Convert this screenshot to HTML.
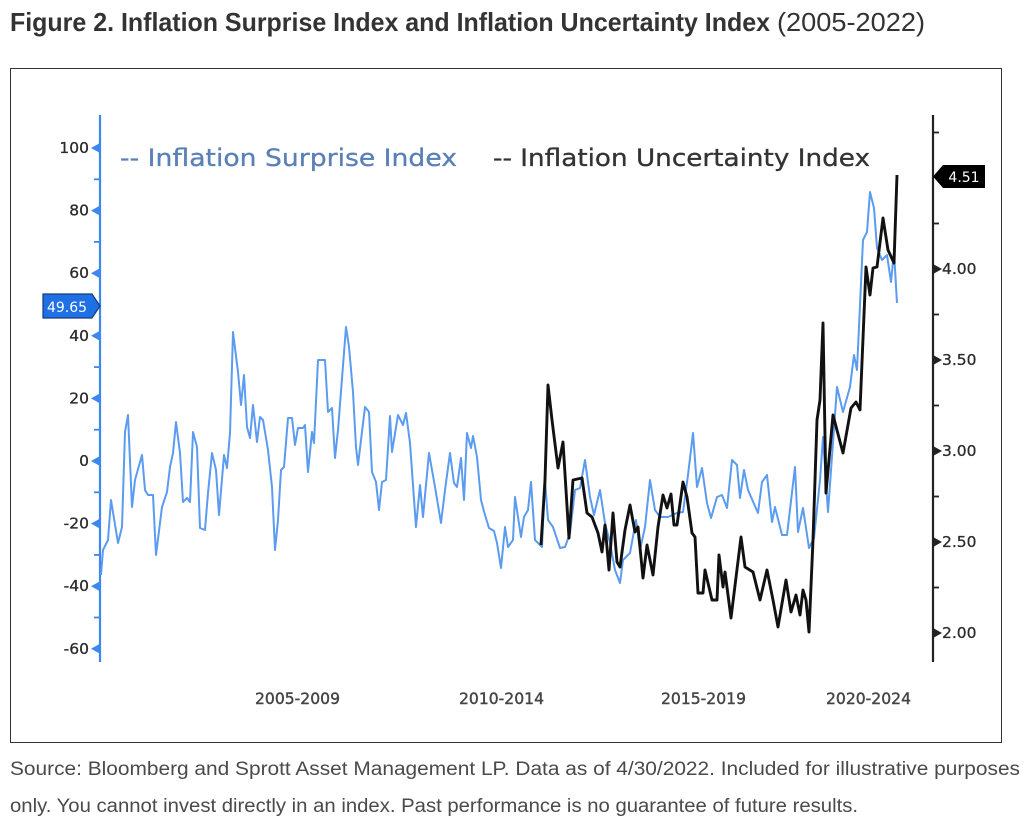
<!DOCTYPE html>
<html><head><meta charset="utf-8"><style>
html,body{margin:0;padding:0;background:#fff;}
svg{display:block;}
</style></head><body>
<svg width="1024" height="826" viewBox="0 0 1024 826" xmlns="http://www.w3.org/2000/svg">
<rect x="0" y="0" width="1024" height="826" fill="#fff"/>
<!-- Title -->
<text x="10" y="31" font-family="Liberation Sans, sans-serif" font-size="26" font-weight="bold" fill="#333" textLength="760" lengthAdjust="spacingAndGlyphs">Figure 2. Inflation Surprise Index and Inflation Uncertainty Index</text>
<text x="777" y="31" font-family="Liberation Sans, sans-serif" font-size="26" fill="#333" textLength="148" lengthAdjust="spacingAndGlyphs">(2005-2022)</text>
<!-- Box -->
<rect x="10.5" y="68.5" width="991" height="674" fill="none" stroke="#333" stroke-width="1"/>

<!-- Left axis -->
<line x1="100" y1="115" x2="100" y2="662" stroke="#3d87f0" stroke-width="2.2"/>
<g fill="#3d87f0">
<polygon points="100,143 91,148 100,153"/>
<polygon points="100,205.6 91,210.6 100,215.6"/>
<polygon points="100,268.2 91,273.2 100,278.2"/>
<polygon points="100,330.8 91,335.8 100,340.8"/>
<polygon points="100,393.4 91,398.4 100,403.4"/>
<polygon points="100,456 91,461 100,466"/>
<polygon points="100,518.6 91,523.6 100,528.6"/>
<polygon points="100,581.2 91,586.2 100,591.2"/>
<polygon points="100,643.8 91,648.8 100,653.8"/>
</g>
<g stroke="#3d87f0" stroke-width="1.8">
<line x1="94" y1="179.3" x2="100" y2="179.3"/>
<line x1="94" y1="241.9" x2="100" y2="241.9"/>
<line x1="94" y1="304.5" x2="100" y2="304.5"/>
<line x1="94" y1="367.1" x2="100" y2="367.1"/>
<line x1="94" y1="429.7" x2="100" y2="429.7"/>
<line x1="94" y1="492.3" x2="100" y2="492.3"/>
<line x1="94" y1="554.9" x2="100" y2="554.9"/>
<line x1="94" y1="617.5" x2="100" y2="617.5"/>
</g>
<g font-family="DejaVu Sans, sans-serif" font-size="15.5" fill="#2a2a2a" text-anchor="end" stroke="#2a2a2a" stroke-width="0.3">
<text x="89" y="153">100</text>
<text x="89" y="215.6">80</text>
<text x="89" y="278.2">60</text>
<text x="89" y="340.8">40</text>
<text x="89" y="403.4">20</text>
<text x="89" y="466">0</text>
<text x="89" y="528.6">-20</text>
<text x="89" y="591.2">-40</text>
<text x="89" y="653.8">-60</text>
</g>

<!-- Right axis -->
<line x1="933" y1="115" x2="933" y2="662" stroke="#222" stroke-width="2.2"/>
<g fill="#222">
<polygon points="933,264 942,269 933,274"/>
<polygon points="933,355 942,360 933,365"/>
<polygon points="933,446 942,451 933,456"/>
<polygon points="933,537 942,542 933,547"/>
<polygon points="933,628 942,633 933,638"/>
</g>
<g stroke="#222" stroke-width="1.8">
<line x1="933" y1="132.5" x2="939" y2="132.5"/>
<line x1="933" y1="223.5" x2="939" y2="223.5"/>
<line x1="933" y1="314.5" x2="939" y2="314.5"/>
<line x1="933" y1="405.5" x2="939" y2="405.5"/>
<line x1="933" y1="496.5" x2="939" y2="496.5"/>
<line x1="933" y1="587.5" x2="939" y2="587.5"/>
</g>
<g font-family="DejaVu Sans, sans-serif" font-size="15.5" fill="#2a2a2a" stroke="#2a2a2a" stroke-width="0.3">
<text x="942" y="274">4.00</text>
<text x="942" y="365">3.50</text>
<text x="942" y="456">3.00</text>
<text x="942" y="547">2.50</text>
<text x="942" y="638">2.00</text>
</g>

<!-- Legend -->
<text x="120" y="166" font-family="DejaVu Sans, sans-serif" font-size="24" fill="#5a80b8" stroke="#5a80b8" stroke-width="0.3" textLength="337" lengthAdjust="spacingAndGlyphs">-- Inflation Surprise Index</text>
<text x="493" y="166" font-family="DejaVu Sans, sans-serif" font-size="24" fill="#333" stroke="#333" stroke-width="0.3" textLength="377" lengthAdjust="spacingAndGlyphs">-- Inflation Uncertainty Index</text>

<!-- X labels -->
<g font-family="DejaVu Sans, sans-serif" font-size="16" fill="#444" stroke="#444" stroke-width="0.4">
<text x="255" y="704" textLength="85" lengthAdjust="spacingAndGlyphs">2005-2009</text>
<text x="459" y="704" textLength="85" lengthAdjust="spacingAndGlyphs">2010-2014</text>
<text x="661" y="704" textLength="85" lengthAdjust="spacingAndGlyphs">2015-2019</text>
<text x="826" y="704" textLength="85" lengthAdjust="spacingAndGlyphs">2020-2024</text>
</g>

<!-- Blue series -->
<polyline fill="none" stroke="#5b9bf0" stroke-width="2" stroke-linejoin="round" points="101,575 103,550 108,540 111,500 118,543 122,527 125,432 128,415 132,507 135,480 142,455 145,490 148,495 153,495 156,555 162,507 167,492 170,467 173,453 176,422 180,453 183,502 187,498 190,502 193,432 197,447 200,528 205,530 208,493 212,453 216,470 219,515 224,455 227,468 230,433 233,332 238,372 241,405 244,375 247,427 250,438 253,405 257,442 260,417 263,420 268,450 272,487 275,550 278,520 281,470 284,467 288,418 292,418 295,445 298,428 303,428 305,425 308,472 312,432 314,443 318,360 325,360 328,412 332,408 335,458 338,430 346,327 349,347 353,392 356,447 358,465 365,407 369,412 372,472 376,482 379,510 382,482 386,480 390,416 392,452 398,415 403,425 406,413 410,443 416,527 420,485 423,517 429,453 435,487 441,523 445,490 450,453 454,483 457,487 461,458 464,500 467,433 471,448 473,436 477,457 481,500 485,515 489,528 494,531 497,543 501,568 505,527 508,547 513,540 515,497 521,537 524,517 528,510 531,482 535,540 542,547 545,480 548,520 553,527 560,548 565,547 570,533 575,490 580,488 585,460 590,497 594,515 600,490 605,523 610,543 615,570 620,583 623,560 630,553 636,520 640,550 645,527 650,480 655,510 660,517 668,517 677,513 683,512 688,475 693,433 697,487 702,468 707,503 711,518 717,497 722,495 727,508 732,460 737,465 740,498 744,470 748,490 758,513 762,482 767,475 772,522 775,507 782,535 787,535 795,467 798,532 803,508 809,548 814,538 820,480 823,437 828,512 837,387 843,412 850,387 854,355 857,370 863,240 867,232 870,192 874,208 877,248 882,260 887,255 891,282 894,252 897,303"/>

<!-- Black series -->
<polyline fill="none" stroke="#111" stroke-width="2.9" stroke-linejoin="round" points="541,545 545,480 548,385 552,420 558,468 563,442 569,538 573,480 582,478 587,513 592,517 598,533 602,552 605,525 609,570 613,513 617,562 620,567 625,530 630,505 635,532 638,527 643,578 647,545 653,575 658,527 663,495 667,508 671,494 674,525 677,525 683,482 687,497 692,533 695,537 698,593 703,593 705,570 712,600 717,600 719,555 723,587 725,572 731,618 741,537 745,567 753,572 760,600 767,570 773,600 778,627 786,580 791,612 796,595 800,615 803,590 806,600 809,632 813,540 817,420 820,400 823,323 826,493 833,415 843,453 851,408 856,402 860,410 866,267 870,295 873,268 877,267 883,218 888,250 894,263 897,175"/>

<!-- Value tags -->
<polygon points="43,294 92,294 100,306 92,318 43,318" fill="#1f6fe5" stroke="#163c78" stroke-width="1.2"/>
<text x="67" y="312" font-family="DejaVu Sans, sans-serif" font-size="14" fill="#fff" text-anchor="middle">49.65</text>
<polygon points="933,176.5 943,165 985,165 985,188 943,188" fill="#000"/>
<text x="964" y="182" font-family="DejaVu Sans, sans-serif" font-size="14" fill="#fff" text-anchor="middle">4.51</text>

<!-- Caption -->
<text x="10" y="775" font-family="Liberation Sans, sans-serif" font-size="19" fill="#4a4a4a" textLength="1010" lengthAdjust="spacingAndGlyphs">Source: Bloomberg and Sprott Asset Management LP. Data as of 4/30/2022. Included for illustrative purposes</text>
<text x="10" y="812" font-family="Liberation Sans, sans-serif" font-size="19" fill="#4a4a4a" textLength="848" lengthAdjust="spacingAndGlyphs">only. You cannot invest directly in an index. Past performance is no guarantee of future results.</text>
</svg>
</body></html>
